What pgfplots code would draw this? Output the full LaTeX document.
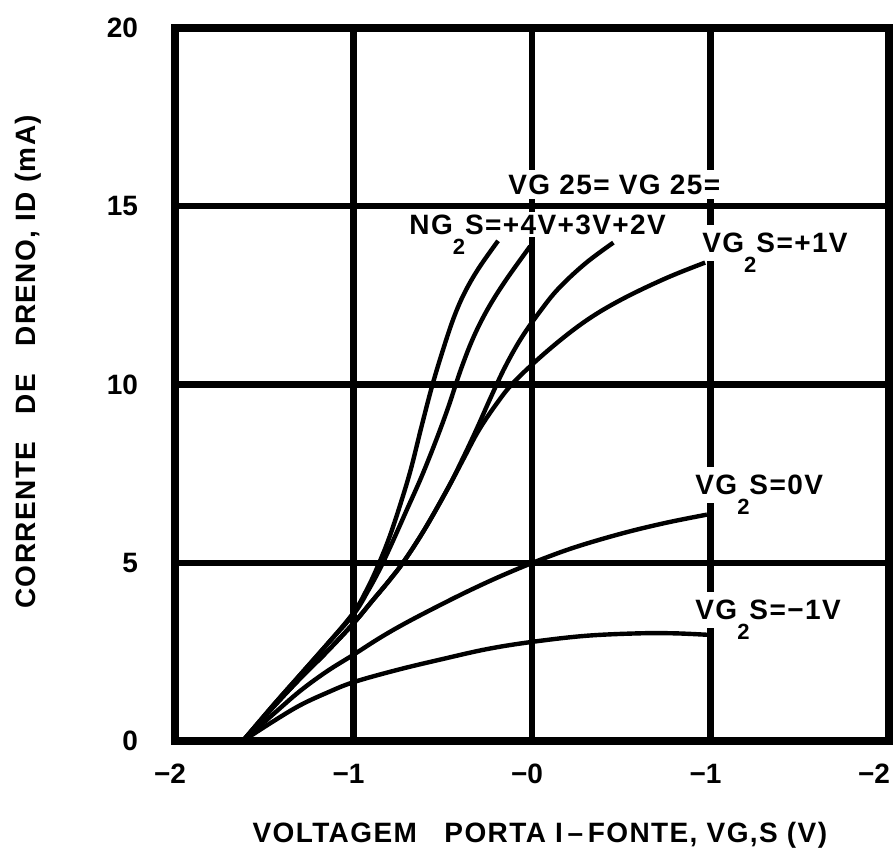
\documentclass[border=0pt]{standalone}
\usepackage{fontspec}
\setmainfont{Liberation Sans}
\usepackage{pgfplots}
\pgfplotsset{compat=1.18}
\newcommand{\sub}[1]{\raisebox{-10pt}[0pt][0pt]{\fontsize{11}{12}\selectfont #1}}
\newcommand{\lab}{\bfseries\fontsize{14}{16}\selectfont\addfontfeature{LetterSpace=5}}
\begin{document}
\begin{tikzpicture}
\useasboundingbox (-87.5pt,-56pt) rectangle (360.5pt,370.5pt);
\begin{axis}[
  at={(0,0)}, anchor=south west,
  scale only axis, width=357pt, height=356.5pt,
  xmin=-2, xmax=2, ymin=0, ymax=20,
  xtick={-2,-1,0,1,2}, xticklabels={−2,−1,−0,−1,\hspace*{-10pt}−2},
  ytick={0,5,10,15,20}, yticklabels={0,5,10,15,20},
  major tick length=0pt,
  grid=major,
  major grid style={line width=3.2pt, black},
  axis line style={line width=3.8pt},
  ticklabel style={font=\bfseries\fontsize{14}{16}\selectfont},
  yticklabel style={xshift=-15pt},
  xticklabel style={yshift=-8pt, xshift=-2.5pt},
  xlabel={VOLTAGEM\ \ \ PORTA I{\,}–\,FONTE, VG,S (V)},
  ylabel={CORRENTE\ \ \ DE\ \ \ DRENO, ID (mA)},
  xlabel style={at={(axis description cs:0.511,-0.132)}, anchor=center, font=\lab},
  ylabel style={at={(axis description cs:-0.206,0.532)}, anchor=center, font=\lab},
  clip=false,
  every axis plot post/.append style={black, solid, line width=2.2pt, smooth, tension=0.6, mark=none},
]
% labels (white background erases gridlines, as in the original)
\node[anchor=base west, fill=white, inner xsep=1pt, inner ysep=2.5pt, font=\lab] at (axis cs:-0.146,15.34) {VG 25= VG 25=};
\node[anchor=base west, fill=white, inner xsep=1pt, inner ysep=1.2pt, font=\lab] at (axis cs:-0.70,14.21) {NG\sub{2}S=+4V+3V+2V};
\node[anchor=base west, fill=white, inner xsep=1pt, inner ysep=4pt, font=\lab] at (axis cs:0.941,13.71) {VG\sub{2}S=+1V};
\node[anchor=base west, fill=white, inner xsep=1pt, inner ysep=4pt, font=\lab] at (axis cs:0.902,6.91) {VG\sub{2}S=0V};
\node[anchor=base west, fill=white, inner xsep=1pt, inner ysep=4pt, font=\lab] at (axis cs:0.902,3.40) {VG\sub{2}S=−1V};

% VG2S = +4V
\addplot coordinates {(-1.62,0) (-1.45,1.0) (-1.3,1.85) (-1.15,2.7) (-1.0,3.6) (-0.92,4.3) (-0.86,4.95) (-0.8,5.7) (-0.74,6.6) (-0.68,7.6) (-0.62,8.8) (-0.56,9.95) (-0.5,10.95) (-0.44,11.85) (-0.38,12.55) (-0.3,13.25) (-0.19,14.03)};
% VG2S = +3V
\addplot coordinates {(-1.62,0) (-1.45,1.0) (-1.3,1.85) (-1.15,2.7) (-1.0,3.55) (-0.92,4.2) (-0.85,4.85) (-0.78,5.6) (-0.70,6.5) (-0.62,7.4) (-0.54,8.4) (-0.47,9.35) (-0.40,10.4) (-0.33,11.3) (-0.25,12.1) (-0.15,12.9) (-0.01,13.88)};
% VG2S = +2V
\addplot coordinates {(-1.62,0) (-1.45,0.95) (-1.3,1.75) (-1.15,2.5) (-1.0,3.3) (-0.9,3.9) (-0.8,4.5) (-0.716,5.05) (-0.6,5.95) (-0.47,7.1) (-0.39,7.9) (-0.31,8.75) (-0.23,9.65) (-0.15,10.5) (-0.06,11.3) (0.045,12.05) (0.15,12.7) (0.3,13.4) (0.456,13.98)};
% VG2S = +1V
\addplot coordinates {(-1.62,0) (-1.45,0.95) (-1.3,1.75) (-1.15,2.5) (-1.0,3.3) (-0.9,3.9) (-0.8,4.5) (-0.716,5.05) (-0.6,5.95) (-0.47,7.1) (-0.38,7.95) (-0.30,8.7) (-0.2,9.45) (-0.095,10.1) (0.1,11.0) (0.3,11.78) (0.5,12.38) (0.75,12.98) (0.97,13.42)};
% VG2S = 0V
\addplot coordinates {(-1.62,0) (-1.45,0.75) (-1.3,1.4) (-1.15,1.95) (-1.0,2.42) (-0.85,2.9) (-0.7,3.33) (-0.5,3.85) (-0.33,4.27) (-0.15,4.68) (0.045,5.08) (0.25,5.45) (0.51,5.83) (0.75,6.12) (0.98,6.35)};
% VG2S = -1V
\addplot coordinates {(-1.62,0) (-1.45,0.55) (-1.3,1.0) (-1.15,1.35) (-1.0,1.65) (-0.75,2.0) (-0.5,2.3) (-0.25,2.58) (0,2.78) (0.3,2.95) (0.6,3.02) (0.8,3.02) (0.98,2.98)};
\end{axis}
\end{tikzpicture}
\end{document}
